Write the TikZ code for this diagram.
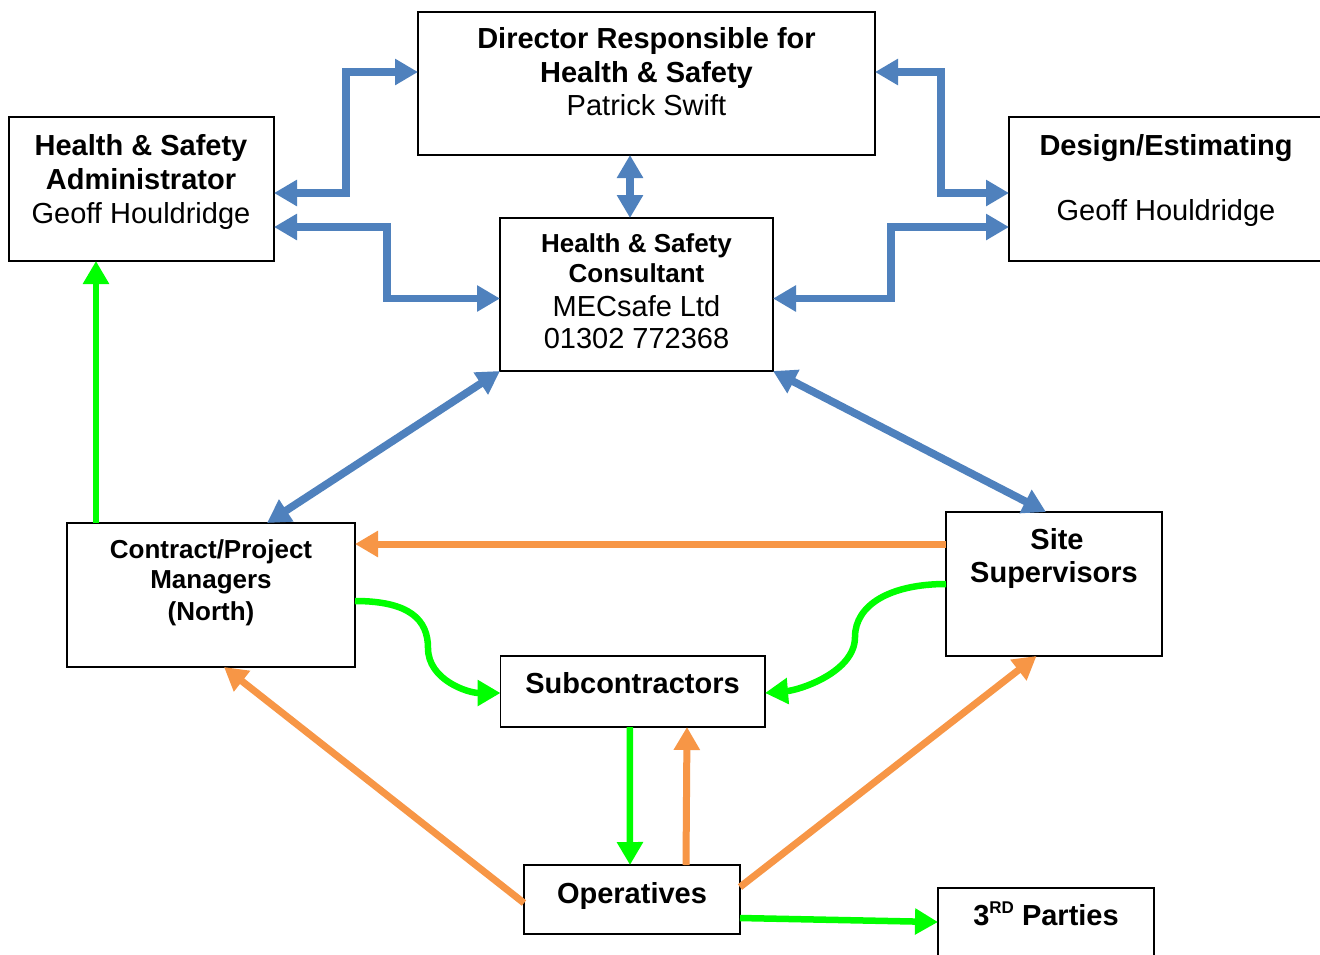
\documentclass[tikz,border=0pt]{standalone}
\usepackage{fontspec}
\setmainfont{Liberation Sans}
\usetikzlibrary{arrows.meta}
\definecolor{bl}{HTML}{4F81BD}
\definecolor{og}{HTML}{F79646}
\definecolor{gn}{HTML}{00FF00}
\tikzset{
  box/.style={draw=black, line width=1.2pt, fill=white, inner sep=0pt, outer sep=0pt},
  tx/.style={anchor=base, inner sep=0pt, outer sep=0pt},
  fb/.style={tx, font=\fontsize{29}{34}\selectfont\bfseries},
  fr/.style={tx, font=\fontsize{29}{34}\selectfont},
  fs/.style={tx, font=\fontsize{26}{30}\selectfont\bfseries},
  tip/.tip={Triangle[length=23pt,width=25pt]},
  blu/.style={draw=bl, line width=7.7pt, line join=miter, tip-tip},
  grn/.style={draw=gn, line width=6.5pt, -tip},
  org/.style={draw=og, line width=7pt, -tip},
}
\begin{document}
\begin{tikzpicture}[x=1pt,y=-1pt]
\useasboundingbox (0,0) rectangle (1320,954);
\clip (0,0) rectangle (1320,954);
\fill[white] (0,0) rectangle (1320,954);

% boxes
\node[box, minimum width=457pt, minimum height=143pt] (dir) at (646.5,83.5) {};
\node[box, minimum width=265pt, minimum height=144pt] (adm) at (141.5,189) {};
\node[box, minimum width=273pt, minimum height=153pt] (con) at (636.5,294.5) {};
\node[box, minimum width=314pt, minimum height=144pt] (des) at (1166,189) {};
\node[box, minimum width=288pt, minimum height=144pt] (cpm) at (211,595) {};
\node[box, minimum width=216pt, minimum height=144pt] (sit) at (1054,584) {};
\node[box, minimum width=264.5pt, minimum height=71pt] (sub) at (632.75,691.5) {};
\node[box, minimum width=216pt, minimum height=69pt] (ops) at (632,899.5) {};
\node[box, minimum width=216pt, minimum height=100pt] (thr) at (1046,938) {};

% texts
\node[fb] (dir1) at (646.5,48) {Director Responsible for};
\node[fb] (dir2) at (646.5,82) {Health \& Safety};
\node[fr] (dir3) at (646.5,115) {Patrick Swift};

\node[fb] (adm1) at (141,155) {Health \& Safety};
\node[fb] (adm2) at (141,189) {Administrator};
\node[fr] (adm3) at (141,223) {Geoff Houldridge};

\node[fs] (con1) at (636.5,252) {Health \& Safety};
\node[fs] (con2) at (636.5,282) {Consultant};
\node[fr] (con3) at (636.5,316) {MECsafe Ltd};
\node[fr] (con4) at (636.5,348) {01302 772368};

\node[fb] (des1) at (1166,155) {Design/Estimating};
\node[fr] (des2) at (1166,220) {Geoff Houldridge};

\node[fs] (cpm1) at (211,558) {Contract/Project};
\node[fs] (cpm2) at (211,588) {Managers};
\node[fs] (cpm3) at (211,620) {(North)};

\node[fb] (sit1) at (1057,549) {Site};
\node[fb] (sit2) at (1054,582) {Supervisors};

\node[fb] (sub1) at (632.5,693) {Subcontractors};
\node[fb] (ops1) at (632,903) {Operatives};
\node[fb] (thr1) at (1046,925) {3\raisebox{12pt}{\fontsize{17}{17}\selectfont RD} Parties};

% blue connectors
\draw[blu] ([yshift=11.5pt]dir.west) -- ++(-72,0) |- ([yshift=-4pt]adm.east);
\draw[blu] ([yshift=-38pt]adm.east) -- ++(113,0) |- ([yshift=-4pt]con.west);
\draw[blu] ([xshift=-16.5pt]dir.south) -- ([xshift=-6.5pt]con.north);
\draw[blu] ([yshift=11.5pt]dir.east) -- ++(66,0) |- ([yshift=-4pt]des.west);
\draw[blu] ([yshift=-38pt]des.west) -- ++(-118,0) |- ([yshift=-4pt]con.east);
\draw[blu] (con.south west) -- ([xshift=56pt]cpm.north);
\draw[blu] (con.south east) -- ([xshift=-8pt]sit.north);

% green connectors
\draw[grn] ([xshift=-115pt]cpm.north) -- ([xshift=-45.5pt]adm.south);
\draw[grn] ([yshift=-6pt]cpm.east) .. controls (410,601) and (428,620) .. (428,648)
  .. controls (428,680) and (468,693) .. ([yshift=-1.5pt]sub.west);
\draw[grn] (sit.west) .. controls (890,584) and (855,605) .. (855,637)
  .. controls (855,672) and (800,690) .. ([yshift=-1.5pt]sub.east);
\draw[grn] ([xshift=-3pt]sub.south) -- ([xshift=-2pt]ops.north);
\draw[grn] ([yshift=-18.5pt]ops.east) -- ([yshift=16pt]thr.west);

% orange connectors
\draw[org] ([yshift=40pt]sit.west) -- ([yshift=51pt]cpm.east);
\draw[org] ([xshift=54pt]ops.north) -- ([xshift=54.25pt]sub.south);
\draw[org] ([yshift=-3.5pt]ops.west) -- ([xshift=13pt]cpm.south);
\draw[org] ([yshift=12.5pt]ops.east) -- ([xshift=-17.5pt]sit.south);
\end{tikzpicture}
\end{document}
